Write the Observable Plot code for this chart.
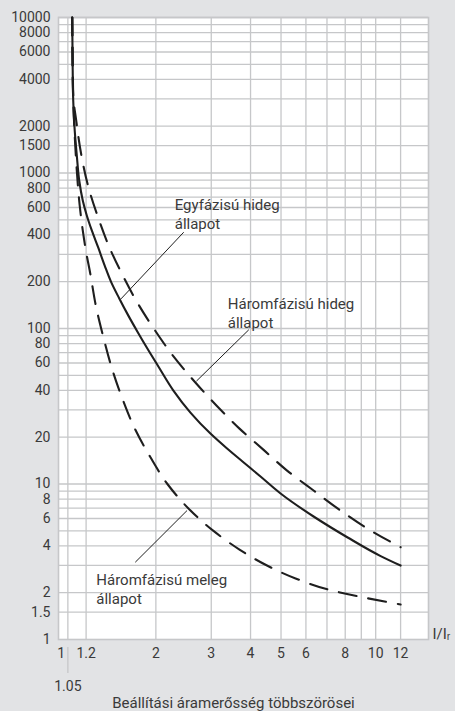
<!DOCTYPE html>
<html><head><meta charset="utf-8">
<script src="https://cdn.jsdelivr.net/npm/d3@7"></script>
<script src="https://cdn.jsdelivr.net/npm/@observablehq/plot@0.6"></script>
<style>
html,body{margin:0;padding:0;background:#e2e3e5;}
#chart{position:relative;width:455px;height:711px;overflow:hidden;}
</style></head><body><div id="chart"></div>
<script>
// axis ticks and grid
const xTicks = [1, 1.2, 2, 3, 4, 5, 6, 8, 10, 12];
const xGrid = [1.05, 1.2, 2, 3, 4, 5, 6, 7, 8, 9, 10, 12];
const yTicks = [1, 1.5, 2, 4, 6, 8, 10, 20, 40, 60, 80, 100, 200, 400, 600, 800, 1000, 1500, 2000, 4000, 6000, 8000, 10000];
const yGrid = [1.5, 2, 3, 4, 5, 6, 7, 8, 9, 10, 20, 30, 40, 50, 60, 70, 80, 90, 100, 200, 300, 400, 500, 600, 700, 800, 900, 1000, 1500, 2000, 3000, 4000, 5000, 6000, 7000, 8000, 9000, 10000];

// Egyfázisú hideg állapot (solid)
const singleColdX = [1.084, 1.087, 1.092, 1.104, 1.121, 1.141, 1.171, 1.206, 1.251, 1.311, 1.375, 1.443, 1.530, 1.635, 1.746, 1.879, 2.037, 2.274, 2.576, 2.982, 3.354, 3.771, 4.303, 4.984, 6.346, 8.145, 10.37, 12];
const singleColdY = [10000, 5290, 2925, 1876, 1296, 895, 666, 533, 427, 332, 254, 198, 156, 121, 95.7, 74.3, 57.0, 39.9, 28.8, 21.1, 17.04, 13.96, 11.17, 8.69, 6.18, 4.53, 3.44, 2.99];

// Háromfázisú hideg állapot (dashed, upper)
const threeColdX = [1.084, 1.088, 1.092, 1.116, 1.158, 1.219, 1.307, 1.422, 1.570, 1.752, 1.993, 2.282, 2.662, 3.116, 3.689, 4.383, 5.226, 6.346, 7.645, 9.293, 12];
const threeColdY = [10000, 5290, 3150, 2177, 1315, 819, 525, 334, 219, 145, 96.4, 65.6, 45.3, 32.0, 22.7, 16.7, 12.2, 9.08, 6.86, 5.25, 3.92];

// Háromfázisú meleg állapot (dashed, lower)
const threeWarmX = [1.084, 1.086, 1.092, 1.104, 1.121, 1.145, 1.171, 1.201, 1.237, 1.288, 1.360, 1.450, 1.564, 1.714, 1.920, 2.176, 2.539, 3.049, 3.689, 4.512, 5.562, 7.032, 8.830, 12];
const threeWarmY = [10000, 5290, 2925, 1742, 1038, 618, 427, 308, 226, 141, 88.9, 55.3, 35.5, 22.7, 14.9, 10.0, 6.96, 4.99, 3.79, 2.99, 2.47, 2.10, 1.89, 1.68];

// annotations
const labelTexts = ["Egyfázisú hideg\nállapot", "Háromfázisú hideg\nállapot", "Háromfázisú meleg\nállapot"];
const labelX = [2.296, 3.386, 1.293];
const labelY = [702, 162, 2.72];
const arrowX1 = [2.452, 3.949, 1.720];
const arrowY1 = [416, 98.1, 3.14];
const arrowX2 = [1.549, 2.692, 2.513];
const arrowY2 = [155, 45.9, 6.75];

const xTitle = "Beállítási áramerősség többszörösei";
const unitLabel = "I/Iᵣ";
const extraTick = 1.05;

const toPts = (xs, ys) => xs.map((x, i) => ({x, y: ys[i]}));
const labels = labelTexts.map((t, i) => ({t, x: labelX[i], y: labelY[i]}));
const arrows = arrowX1.map((x1, i) => ({x1, y1: arrowY1[i], x2: arrowX2[i], y2: arrowY2[i]}));

const ink = "#1e1e1e";
const textCol = "#3a3a3a";
const gridCol = "#c6c7c9";

const svg = Plot.plot({
  width: 455,
  height: 711,
  marginLeft: 58,
  marginTop: 17,
  marginRight: 27,
  marginBottom: 72,
  style: {fontFamily: "Roboto, sans-serif", fontSize: "14px", color: textCol, background: "#e2e3e5"},
  x: {type: "log", domain: [0.9804, 14.72], ticks: xTicks, tickFormat: d => String(d), tickSize: 0, tickPadding: 9, label: null},
  y: {type: "log", domain: [1, 10000], axis: null},
  marks: [
    Plot.frame({fill: "white", stroke: null}),
    Plot.ruleX(xGrid, {stroke: gridCol, strokeWidth: 1.3}),
    Plot.ruleY(yGrid, {stroke: gridCol, strokeWidth: 1.3}),
    Plot.frame({stroke: gridCol, strokeWidth: 1.6}),
    Plot.text(yTicks, {y: d => d, frameAnchor: "left", textAnchor: "end", dx: -8, text: d => String(d), fill: textCol}),
    Plot.line(toPts(threeWarmX, threeWarmY), {x: "x", y: "y", stroke: ink, strokeWidth: 2.1, strokeDasharray: "18,12", curve: "monotone-y"}),
    Plot.line(toPts(threeColdX, threeColdY), {x: "x", y: "y", stroke: ink, strokeWidth: 2.1, strokeDasharray: "18,12", curve: "monotone-y"}),
    Plot.line(toPts(singleColdX, singleColdY), {x: "x", y: "y", stroke: ink, strokeWidth: 2.1, curve: "monotone-y"}),
    Plot.link(arrows, {x1: "x1", y1: "y1", x2: "x2", y2: "y2", stroke: ink, strokeWidth: 1, ariaLabel: "annotation-arrow"}),
    Plot.text(labels, {x: "x", y: "y", text: "t", textAnchor: "start", lineAnchor: "top", lineHeight: 1.27, fontSize: 15, fill: textCol}),
    Plot.ruleX([extraTick], {y1: 1, y2: 1, insetTop: 8, insetBottom: -34, stroke: gridCol, strokeWidth: 1.3}),
    Plot.text([extraTick], {x: d => d, y: [1], text: d => String(d), lineAnchor: "top", dy: 42, fill: textCol}),
    Plot.text([unitLabel], {frameAnchor: "bottom-right", text: d => d, textAnchor: "start", lineAnchor: "top", dx: 4, dy: -11, fontSize: 15, fill: textCol}),
    Plot.text([xTitle], {frameAnchor: "bottom", text: d => d, lineAnchor: "top", dx: -10, dy: 58, fontSize: 15, fill: textCol})
  ]
});

// filled arrowheads
const defs = d3.select(svg).insert("defs", ":first-child");
defs.append("marker")
  .attr("id", "ahead")
  .attr("viewBox", "0 0 12 7")
  .attr("refX", 12).attr("refY", 3.5)
  .attr("markerWidth", 12).attr("markerHeight", 7)
  .attr("markerUnits", "userSpaceOnUse")
  .attr("orient", "auto")
  .append("path").attr("d", "M0,0L12,3.5L0,7Z").attr("fill", ink);
d3.select(svg).selectAll('g[aria-label="annotation-arrow"] path').attr("marker-end", "url(#ahead)");

document.getElementById("chart").appendChild(svg);
</script></body></html>
